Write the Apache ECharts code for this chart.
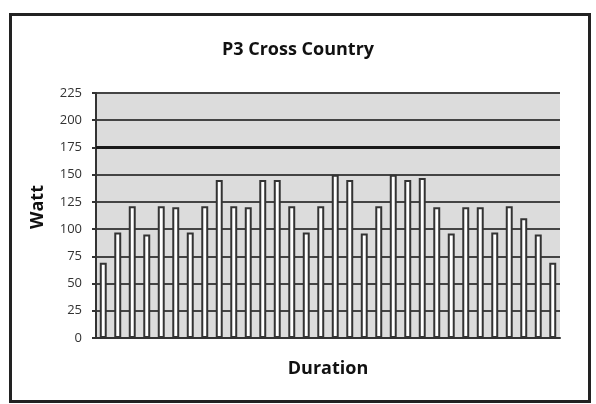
<!DOCTYPE html>
<html><head><meta charset="utf-8">
<script src="https://cdn.jsdelivr.net/npm/echarts@6/dist/echarts.min.js"></script>
<style>html,body{margin:0;padding:0;background:#fff}#c{width:596px;height:404px}</style>
</head><body><div id="c"></div>
<script>
const chartTitle = 'P3 Cross Country';
const yAxisName = 'Watt';
const xAxisName = 'Duration';
const categories = ['1','2','3','4','5','6','7','8','9','10','11','12','13','14','15','16','17','18','19','20','21','22','23','24','25','26','27','28','29','30','31','32'];
const watts = [69, 97, 121, 95, 121, 120, 97, 121, 145, 121, 120, 145, 145, 121, 97, 121, 150, 145, 96, 121, 150, 145, 147, 120, 96, 120, 120, 97, 121, 110, 95, 69];
const highlightLine = 175;

const chart = echarts.init(document.getElementById('c'));
const font = '"Open Sans", "Noto Sans", sans-serif';
chart.setOption({
  animation: false,
  backgroundColor: '#fff',
  graphic: [{
    type: 'rect', left: 8, top: 12,
    shape: { width: 579, height: 387 },
    style: { fill: 'none', stroke: '#222', lineWidth: 3 },
    z: 100
  }, {
    type: 'text', x: 38, y: 207, rotation: Math.PI / 2,
    style: {
      text: yAxisName, fontFamily: font, fontWeight: 'bold', fontSize: 18,
      fill: '#111', align: 'center', verticalAlign: 'middle'
    }
  }],
  title: {
    text: chartTitle, left: 'center', top: 36,
    textStyle: { fontFamily: font, fontWeight: 'bold', fontSize: 18, color: '#111' }
  },
  grid: { left: 96, right: 36, top: 93, bottom: 66 },
  xAxis: {
    type: 'category', data: categories,
    name: xAxisName, nameLocation: 'middle', nameGap: 22,
    nameTextStyle: { fontFamily: font, fontWeight: 'bold', fontSize: 18, color: '#111' },
    axisLine: { lineStyle: { color: '#333', width: 2 } },
    axisTick: { show: false },
    axisLabel: { show: false }
  },
  yAxis: {
    type: 'value', min: 0, max: 225, interval: 25,
    axisLine: { show: true, lineStyle: { color: '#333', width: 2 } },
    axisTick: { show: true, length: 4, lineStyle: { color: '#333', width: 2 } },
    axisLabel: { fontFamily: font, fontSize: 13, color: '#333', margin: 14 },
    splitLine: { lineStyle: { color: '#444', width: 2 } },
    splitArea: { show: true, areaStyle: { color: ['#dcdcdc', '#dcdcdc'] } }
  },
  series: [{
    type: 'bar', data: watts, barWidth: '48%',
    itemStyle: { color: '#fff', borderColor: '#333', borderWidth: 2 },
    markLine: {
      silent: true, symbol: 'none', label: { show: false },
      lineStyle: { color: '#1a1a1a', width: 3, type: 'solid' },
      data: [{ yAxis: highlightLine }]
    }
  }]
});
</script></body></html>
